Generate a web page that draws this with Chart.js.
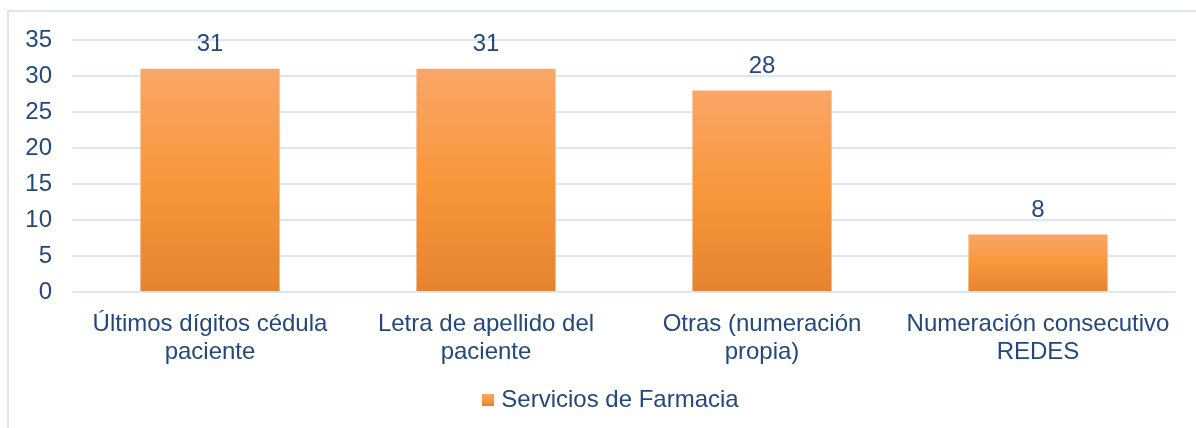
<!DOCTYPE html>
<html>
<head>
<meta charset="utf-8">
<script src="https://cdn.jsdelivr.net/npm/chart.js@4/dist/chart.umd.min.js"></script>
<style>
  body { margin: 0; background: #fff; }
  #wrap { position: relative; width: 1196px; height: 428px; overflow: hidden; }
  #frame { position: absolute; left: 7px; top: 10px; width: 1200px; height: 430px;
           border-left: 2px solid #d9e5f4; border-top: 2px solid #d9e5f4; }
  #myChart { position: absolute; left: 0; top: 0; }
</style>
</head>
<body>
<div id="wrap">
  <div id="frame"></div>
  <canvas id="myChart" width="1196" height="428"></canvas>
</div>
<script>
var categories = [
    ['Últimos dígitos cédula', 'paciente'],
    ['Letra de apellido del', 'paciente'],
    ['Otras (numeración', 'propia)'],
    ['Numeración consecutivo', 'REDES']
];
var seriesName = 'Servicios de Farmacia';
var values = [31, 31, 28, 8];
var yTicks = [0, 5, 10, 15, 20, 25, 30, 35];

var textColor = '#24487c';
var font = 'Liberation Sans, Arial, sans-serif';

// gradiente por barra (claro arriba, oscuro abajo)
function barFill(context) {
    var chart = context.chart;
    var y = chart.scales.y;
    if (!y || context.type !== 'data') return '#f79a43';
    var top = y.getPixelForValue(context.raw);
    var bottom = y.getPixelForValue(0);
    var g = chart.ctx.createLinearGradient(0, top, 0, bottom);
    g.addColorStop(0, 'rgb(249,166,104)');
    g.addColorStop(0.5, 'rgb(249,151,60)');
    g.addColorStop(1, 'rgb(230,131,48)');
    return g;
}

var valueLabels = {
    id: 'valueLabels',
    afterLayout: function (chart) {
        // leyenda un poco a la derecha, como en el original
        chart.legend.left += 25;
        chart.legend.right += 25;
    },
    afterDatasetsDraw: function (chart) {
        var ctx = chart.ctx;
        var meta = chart.getDatasetMeta(0);
        ctx.save();
        ctx.font = '24px ' + font;
        ctx.fillStyle = textColor;
        ctx.textAlign = 'center';
        ctx.textBaseline = 'middle';
        meta.data.forEach(function (bar, i) {
            ctx.fillText(String(values[i]), bar.x, bar.y - 24);
        });
        ctx.restore();
    }
};

var legendSquare = document.createElement('canvas');
legendSquare.width = 12; legendSquare.height = 12;
(function () {
    var c = legendSquare.getContext('2d');
    var g = c.createLinearGradient(0, 0, 0, 12);
    g.addColorStop(0, 'rgb(249,166,104)');
    g.addColorStop(0.5, 'rgb(249,151,60)');
    g.addColorStop(1, 'rgb(230,131,48)');
    c.fillStyle = g;
    c.fillRect(0, 0, 12, 12);
})();

var ctx = document.getElementById('myChart');
var myChart = new Chart(ctx, {
    type: 'bar',
    data: {
        labels: categories,
        datasets: [{
            label: seriesName,
            data: values,
            backgroundColor: barFill,
            borderWidth: 0,
            categoryPercentage: 1,
            barPercentage: 0.504
        }]
    },
    options: {
        responsive: false,
        animation: false,
        layout: { padding: { top: 40, right: 20, bottom: 6, left: 0 } },
        plugins: {
            tooltip: { enabled: false },
            legend: {
                position: 'bottom',
                labels: {
                    color: textColor,
                    font: { family: font, size: 24 },
                    usePointStyle: true,
                    pointStyleWidth: 2,
                    boxHeight: 12,
                    generateLabels: function () {
                        return [{ text: seriesName, pointStyle: legendSquare, fontColor: textColor,
                                  datasetIndex: 0, lineWidth: 0, hidden: false }];
                    }
                }
            }
        },
        scales: {
            x: {
                grid: { display: false },
                border: { display: false },
                ticks: {
                    color: textColor,
                    font: { family: font, size: 24, lineHeight: 1.15 },
                    padding: 11,
                    maxRotation: 0,
                    autoSkip: false
                },
                afterFit: function (s) { s.height = 86; }
            },
            y: {
                min: 0,
                max: 35,
                afterBuildTicks: function (s) { s.ticks = yTicks.map(function (v) { return { value: v }; }); },
                grid: { color: '#dce7f5', lineWidth: 2, drawTicks: false },
                border: { display: false },
                ticks: {
                    color: textColor,
                    font: { family: font, size: 24 },
                    padding: 20
                },
                afterFit: function (s) { s.width = 72; }
            }
        }
    },
    plugins: [valueLabels]
});
</script>
</body>
</html>
